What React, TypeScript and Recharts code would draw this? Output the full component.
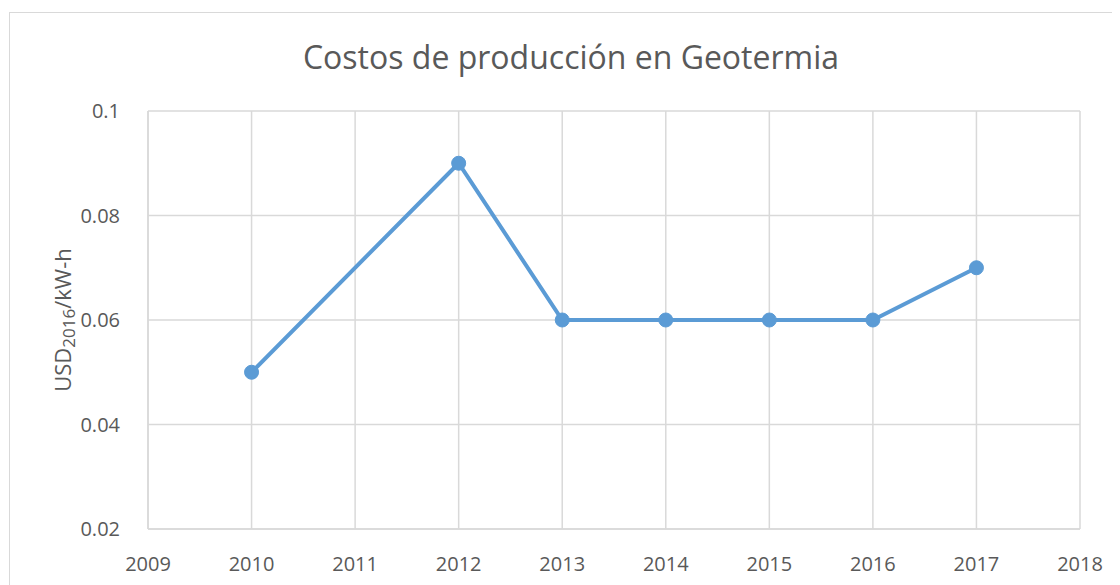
import { LineChart, Line, XAxis, YAxis, CartesianGrid } from 'recharts'

const years = [2010, 2012, 2013, 2014, 2015, 2016, 2017]
const costs = [0.05, 0.09, 0.06, 0.06, 0.06, 0.06, 0.07]
const xTicks = [2009, 2010, 2011, 2012, 2013, 2014, 2015, 2016, 2017, 2018]
const yTicks = [0.02, 0.04, 0.06, 0.08, 0.1]

const data = years.map((year, i) => ({ year, cost: costs[i] }))

const FONT = '"Open Sans", "Liberation Sans", sans-serif'
const TEXT = '#595959'
const GRID = '#d9d9d9'

function YLabel({ viewBox }: any) {
  const cx = viewBox.x + 14
  const cy = viewBox.y + viewBox.height / 2
  return (
    <text
      x={cx}
      y={cy}
      transform={`rotate(-90, ${cx}, ${cy})`}
      textAnchor="middle"
      dominantBaseline="central"
      fill={TEXT}
      fontSize={22}
      fontFamily={FONT}
    >
      USD
      <tspan fontSize={17} dy={6}>2016</tspan>
      <tspan dy={-6}>/kW-h</tspan>
    </text>
  )
}

export default function App() {
  return (
    <div style={{ position: 'relative', width: 1112, height: 577, fontFamily: FONT }}>
      <div
        style={{
          position: 'absolute',
          left: 1,
          top: 4,
          width: 1130,
          height: 600,
          border: `1px solid ${GRID}`,
          boxSizing: 'border-box',
        }}
      />
      <div
        style={{
          position: 'absolute',
          left: 0,
          top: 28,
          width: 1126,
          textAlign: 'center',
          fontSize: 32,
          color: TEXT,
          lineHeight: '42px',
        }}
      >
        Costos de producción en Geotermia
      </div>
      <LineChart
        width={1112}
        height={577}
        data={data}
        margin={{ top: 103, right: 40, bottom: 26, left: 40 }}
        style={{ position: 'absolute', left: 0, top: 0 }}
      >
        <CartesianGrid stroke={GRID} strokeWidth={1.5} />
        <XAxis
          dataKey="year"
          type="number"
          domain={[2009, 2018]}
          ticks={xTicks}
          interval={0}
          height={30}
          axisLine={{ stroke: GRID, strokeWidth: 1.5 }}
          tickLine={false}
          tickMargin={22}
          tick={{ fill: TEXT, fontSize: 20, fontFamily: FONT }}
        />
        <YAxis
          type="number"
          domain={[0.02, 0.1]}
          ticks={yTicks}
          interval={0}
          width={100}
          axisLine={{ stroke: GRID, strokeWidth: 1.5 }}
          tickLine={false}
          tickMargin={22}
          tick={{ fill: TEXT, fontSize: 20, fontFamily: FONT }}
          label={<YLabel />}
        />
        <Line
          dataKey="cost"
          stroke="#5b9bd5"
          strokeWidth={4}
          dot={{ r: 7, fill: '#5b9bd5', stroke: '#5b9bd5', strokeWidth: 1 }}
          isAnimationActive={false}
        />
      </LineChart>
    </div>
  )
}
